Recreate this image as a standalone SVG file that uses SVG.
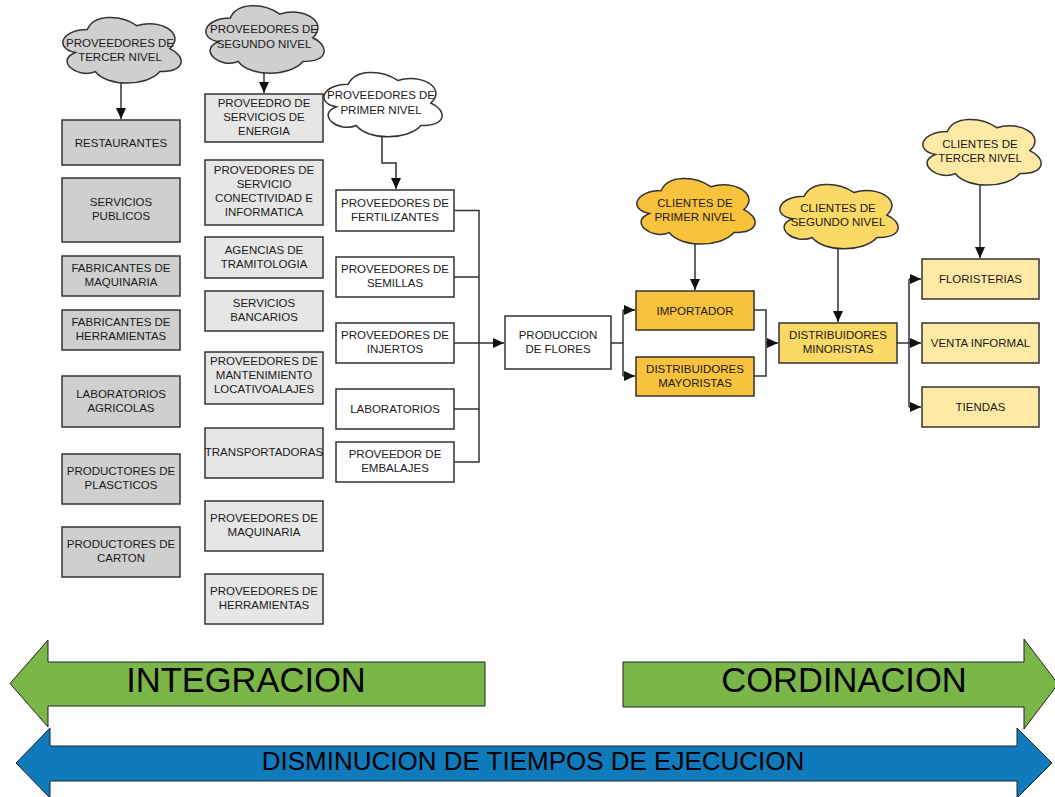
<svg xmlns="http://www.w3.org/2000/svg" xmlns:xlink="http://www.w3.org/1999/xlink" width="1055" height="797" viewBox="0 0 1055 797">
<style>
text{font-family:"Liberation Sans",Arial,sans-serif;font-size:11.5px;fill:#1a1a1a;text-anchor:middle}
.box{stroke:#333;stroke-width:1.5}
.g1{fill:#cfcfcf}
.g2{fill:#e6e6e6}
.w{fill:#fff}
.o1{fill:#f9c23c}
.o2{fill:#fcd865}
.o3{fill:#fee9a5}
.cl{stroke:#333;stroke-width:1.5}
.conn{fill:none;stroke:#333;stroke-width:1.5}
.big{font-size:34.5px;fill:#000}
.mid{font-size:26px;fill:#000}
</style>
<defs>
<path id="cloud" vector-effect="non-scaling-stroke" d="M30 20 C6 20 0 40 19.2 44 C0 52.8 21.6 72 37.2 64 C48 80 84 80 96 64 C120 64 120 48 105 40 C120 24 96 8 75 16 C60 4 36 4 30 20 Z"/>
<marker id="ah" markerUnits="userSpaceOnUse" markerWidth="12" markerHeight="10" refX="11" refY="5" orient="auto"><path d="M0,0 L11,5 L0,10 Z" fill="#111"/></marker>
</defs>

<g id="connectors">
<path class="conn" d="M121,83 V119" marker-end="url(#ah)"/>
<path class="conn" d="M264,72 V93" marker-end="url(#ah)"/>
<path class="conn" d="M382,137 V163 H396 V189" marker-end="url(#ah)"/>
<path class="conn" d="M454,210.5 H479 V462 H454 M454,277 H479 M454,409 H479"/>
<path class="conn" d="M454,343 H504" marker-end="url(#ah)"/>
<path class="conn" d="M611,343 H623 M623,310 V376"/>
<path class="conn" d="M623,310 H635" marker-end="url(#ah)"/>
<path class="conn" d="M623,376 H635" marker-end="url(#ah)"/>
<path class="conn" d="M754,310 H766 V376 H754"/>
<path class="conn" d="M766,343 H778" marker-end="url(#ah)"/>
<path class="conn" d="M897,343 H909 M909,279 V407"/>
<path class="conn" d="M909,279 H921" marker-end="url(#ah)"/>
<path class="conn" d="M909,343 H921" marker-end="url(#ah)"/>
<path class="conn" d="M909,407 H921" marker-end="url(#ah)"/>
<path class="conn" d="M695,244 V290" marker-end="url(#ah)"/>
<path class="conn" d="M838,249 V322" marker-end="url(#ah)"/>
<path class="conn" d="M980,185 V258" marker-end="url(#ah)"/>
</g>

<!-- clouds -->
<g id="cloud-prov3"><use href="#cloud" class="cl g1" transform="translate(54.3,10.4) scale(1.1,0.956)"/><text x="120" y="47">PROVEEDORES DE</text><text x="120" y="61">TERCER NIVEL</text></g>
<g id="cloud-prov2"><use href="#cloud" class="cl g1" transform="translate(197.3,-1.6) scale(1.1,0.985)"/><text x="264" y="33">PROVEEDORES DE</text><text x="264" y="48">SEGUNDO NIVEL</text></g>
<g id="cloud-prov1"><use href="#cloud" class="cl w" transform="translate(315.3,65.4) scale(1.1,0.94)"/><text x="381" y="99">PROVEEDORES DE</text><text x="381" y="114">PRIMER NIVEL</text></g>
<g id="cloud-cli1"><use href="#cloud" class="cl o1" transform="translate(628.3,171.4) scale(1.1,0.956)"/><text x="695" y="207">CLIENTES DE</text><text x="695" y="221">PRIMER NIVEL</text></g>
<g id="cloud-cli2"><use href="#cloud" class="cl o2" transform="translate(771.3,177.4) scale(1.1,0.94)"/><text x="838" y="212">CLIENTES DE</text><text x="838" y="226">SEGUNDO NIVEL</text></g>
<g id="cloud-cli3"><use href="#cloud" class="cl o3" transform="translate(914.3,112.4) scale(1.1,0.956)"/><text x="980" y="148">CLIENTES DE</text><text x="980" y="162">TERCER NIVEL</text></g>

<!-- left column -->
<g id="n-restaurantes"><rect class="box g1" x="62" y="120" width="118" height="45"/><text x="121" y="147">RESTAURANTES</text></g>
<g id="n-servpub"><rect class="box g1" x="62" y="178" width="118" height="64"/><text x="121" y="206">SERVICIOS</text><text x="121" y="220">PUBLICOS</text></g>
<g id="n-fabmaq"><rect class="box g1" x="62" y="256" width="118" height="40"/><text x="121" y="272">FABRICANTES DE</text><text x="121" y="286">MAQUINARIA</text></g>
<g id="n-fabher"><rect class="box g1" x="62" y="310" width="118" height="40"/><text x="121" y="326">FABRICANTES DE</text><text x="121" y="340">HERRAMIENTAS</text></g>
<g id="n-labagr"><rect class="box g1" x="62" y="376" width="118" height="51"/><text x="121" y="397.5">LABORATORIOS</text><text x="121" y="411.5">AGRICOLAS</text></g>
<g id="n-plast"><rect class="box g1" x="62" y="454" width="118" height="50"/><text x="121" y="475">PRODUCTORES DE</text><text x="121" y="489">PLASCTICOS</text></g>
<g id="n-carton"><rect class="box g1" x="62" y="527" width="118" height="50"/><text x="121" y="548">PRODUCTORES DE</text><text x="121" y="562">CARTON</text></g>

<!-- middle column -->
<g id="n-energia"><rect class="box g2" x="205" y="94" width="118" height="48"/><text x="264" y="107">PROVEEDRO DE</text><text x="264" y="121">SERVICIOS DE</text><text x="264" y="135">ENERGIA</text></g>
<g id="n-conect"><rect class="box g2" x="205" y="160" width="118" height="65"/><text x="264" y="174">PROVEDORES DE</text><text x="264" y="188">SERVICIO</text><text x="264" y="202">CONECTIVIDAD E</text><text x="264" y="216">INFORMATICA</text></g>
<g id="n-agencias"><rect class="box g2" x="205" y="237" width="118" height="41"/><text x="264" y="253.5">AGENCIAS DE</text><text x="264" y="267.5">TRAMITOLOGIA</text></g>
<g id="n-bancarios"><rect class="box g2" x="205" y="291" width="118" height="40"/><text x="264" y="307">SERVICIOS</text><text x="264" y="321">BANCARIOS</text></g>
<g id="n-mant"><rect class="box g2" x="205" y="352" width="118" height="52"/><text x="264" y="365">PROVEEDORES DE</text><text x="264" y="379">MANTENIMIENTO</text><text x="264" y="393">LOCATIVOALAJES</text></g>
<g id="n-transp"><rect class="box g2" x="205" y="428" width="118" height="50"/><text x="264" y="456">TRANSPORTADORAS</text></g>
<g id="n-provmaq"><rect class="box g2" x="205" y="501" width="118" height="50"/><text x="264" y="522">PROVEEDORES DE</text><text x="264" y="536">MAQUINARIA</text></g>
<g id="n-provher"><rect class="box g2" x="205" y="574" width="118" height="50"/><text x="264" y="595">PROVEEDORES DE</text><text x="264" y="609">HERRAMIENTAS</text></g>

<!-- first tier suppliers -->
<g id="n-fert"><rect class="box w" x="336" y="190" width="118" height="41"/><text x="395" y="206.5">PROVEEDORES DE</text><text x="395" y="220.5">FERTILIZANTES</text></g>
<g id="n-sem"><rect class="box w" x="336" y="257" width="118" height="40"/><text x="395" y="273">PROVEEDORES DE</text><text x="395" y="287">SEMILLAS</text></g>
<g id="n-inj"><rect class="box w" x="336" y="323" width="118" height="40"/><text x="395" y="339">PROVEEDORES DE</text><text x="395" y="353">INJERTOS</text></g>
<g id="n-lab"><rect class="box w" x="336" y="389" width="118" height="40"/><text x="395" y="413">LABORATORIOS</text></g>
<g id="n-emb"><rect class="box w" x="336" y="442" width="118" height="40"/><text x="395" y="458">PROVEEDOR DE</text><text x="395" y="472">EMBALAJES</text></g>

<g id="n-prod"><rect class="box w" x="505" y="316" width="106" height="53"/><text x="558" y="338.5">PRODUCCION</text><text x="558" y="352.5">DE FLORES</text></g>

<g id="n-import"><rect class="box o1" x="636" y="291" width="118" height="39"/><text x="695" y="314.5">IMPORTADOR</text></g>
<g id="n-mayor"><rect class="box o1" x="636" y="357" width="118" height="39"/><text x="695" y="372.5">DISTRIBUIDORES</text><text x="695" y="386.5">MAYORISTAS</text></g>
<g id="n-minor"><rect class="box o2" x="779" y="323" width="118" height="40"/><text x="838" y="339">DISTRIBUIDORES</text><text x="838" y="353">MINORISTAS</text></g>

<g id="n-flor"><rect class="box o3" x="922" y="259" width="117" height="40"/><text x="980.5" y="283">FLORISTERIAS</text></g>
<g id="n-venta"><rect class="box o3" x="922" y="323" width="117" height="40"/><text x="980.5" y="347">VENTA INFORMAL</text></g>
<g id="n-tiendas"><rect class="box o3" x="922" y="387" width="117" height="40"/><text x="980.5" y="411">TIENDAS</text></g>

<!-- bottom arrows -->
<g id="arrow-integracion"><path d="M485,662 L48,662 L48,640 L10,683.5 L48,727 L48,706 L485,706 Z" fill="#7ab648" stroke="#222" stroke-width="1"/><text class="big" x="246" y="692">INTEGRACION</text></g>
<g id="arrow-cordinacion"><path d="M623,662 L1024,662 L1024,639 L1058,684 L1024,729 L1024,707 L623,707 Z" fill="#7ab648" stroke="#222" stroke-width="1"/><text class="big" x="844" y="692">CORDINACION</text></g>
<g id="arrow-tiempos"><path d="M50,746 L1017,746 L1017,728 L1052,763 L1017,798 L1017,781 L50,781 L50,798 L16,763 L50,728 Z" fill="#0f7abc" stroke="#222" stroke-width="1"/><text class="mid" x="533" y="770">DISMINUCION DE TIEMPOS DE EJECUCION</text></g>
</svg>
